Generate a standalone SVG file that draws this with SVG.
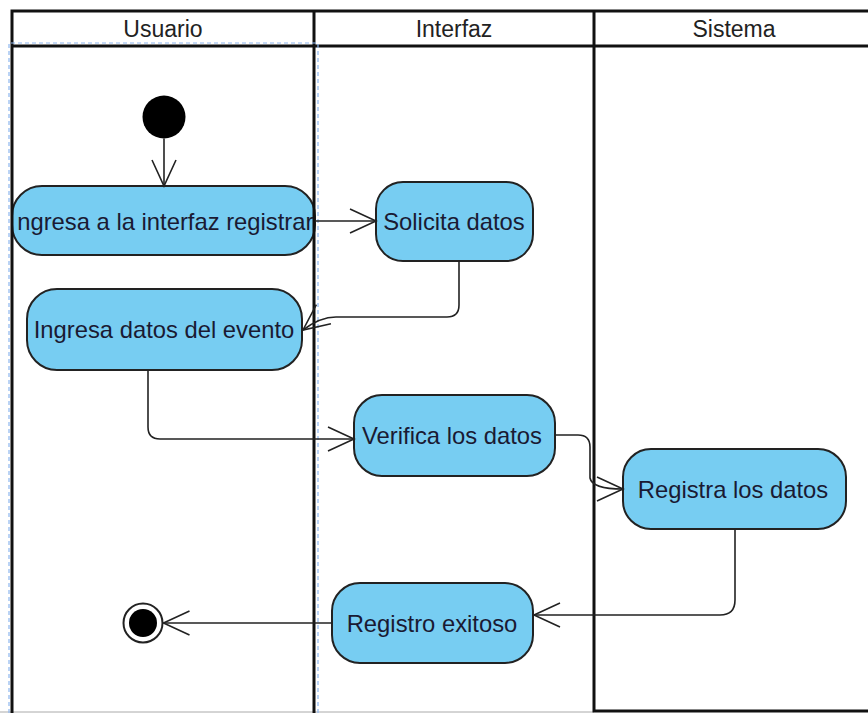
<svg xmlns="http://www.w3.org/2000/svg" width="868" height="713" viewBox="0 0 868 713">
<style>
.lane{fill:none;stroke:#111;stroke-width:3}
.hdr{font-family:"Liberation Sans",Arial,sans-serif;font-size:23px;fill:#222;text-anchor:middle}
.act rect{fill:#77cdf2;stroke:#222;stroke-width:2}
.act text{font-family:"Liberation Sans",Arial,sans-serif;font-size:23.8px;fill:#1a1a33;text-anchor:middle}
.sel{fill:none;stroke:#8db6ee;stroke-width:1.2;stroke-dasharray:4,3}
.edge{fill:none;stroke:#222;stroke-width:1.6}
</style>
<defs>
<marker id="open" markerUnits="userSpaceOnUse" markerWidth="30" markerHeight="28" refX="27" refY="13" orient="auto">
<path d="M1,1 L27,13 L1,25" fill="none" stroke="#222" stroke-width="1.6"/>
</marker>
<clipPath id="c1"><rect x="16" y="180" width="299" height="80"/></clipPath>
</defs>
<rect width="868" height="713" fill="#fff"/>
<line x1="0" y1="712" x2="594" y2="712" stroke="#aaa" stroke-width="1"/>
<g id="nodes">
<g id="start"><circle cx="164" cy="117" r="21.5" fill="#000"/></g>
<g id="n1" class="act"><rect x="12" y="186" width="303" height="69" rx="30"/><text x="162" y="230" clip-path="url(#c1)">Ingresa a la interfaz registrar</text></g>
<g id="n2" class="act"><rect x="376" y="182" width="157" height="79" rx="27"/><text x="454" y="230">Solicita datos</text></g>
<g id="n3" class="act"><rect x="27" y="289" width="275" height="81" rx="30"/><text x="164" y="338">Ingresa datos del evento</text></g>
<g id="n4" class="act"><rect x="354" y="395" width="201" height="81" rx="28"/><text x="452" y="444">Verifica los datos</text></g>
<g id="n5" class="act"><rect x="623" y="449" width="223" height="80" rx="28"/><text x="733" y="498">Registra los datos</text></g>
<g id="n6" class="act"><rect x="332" y="583" width="201" height="80" rx="28"/><text x="432" y="632">Registro exitoso</text></g>
<g id="end"><circle cx="143" cy="623" r="19.5" fill="#fff" stroke="#222" stroke-width="2"/><circle cx="143" cy="623" r="14" fill="#000"/></g>
</g>
<g id="lanes">
<path class="lane" d="M12,713 V11 H870 M12,46 H870 M314,11 V713 M594,11 V711 H870"/>
<text class="hdr" x="163" y="37">Usuario</text>
<text class="hdr" x="454" y="37">Interfaz</text>
<text class="hdr" x="734" y="37">Sistema</text>
<path class="sel" d="M9,713 V43 H318 V713"/>
</g>
<g id="connectors">
<path class="edge" stroke="#444" d="M164,138.5 V186" marker-end="url(#open)"/>
<path class="edge" d="M315,221 H376" marker-end="url(#open)"/>
<path class="edge" d="M459,261 V305 Q459,317 447,317 H336 Q320,317 303,330" marker-end="url(#open)"/>
<path class="edge" d="M148,370 V427 Q148,439 160,439 H354" marker-end="url(#open)"/>
<path class="edge" d="M555,435 H578 Q590,435 590,447 V478 Q592,489 623,489" marker-end="url(#open)"/>
<path class="edge" d="M735,529 V600 Q735,615 720,615 H534" marker-end="url(#open)"/>
<path class="edge" d="M332,623 H163.5" marker-end="url(#open)"/>
</g>
</svg>
